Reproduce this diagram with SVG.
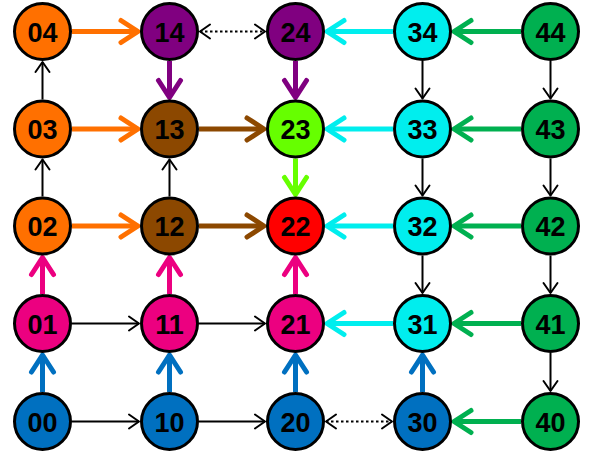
<svg xmlns="http://www.w3.org/2000/svg" width="595" height="455" viewBox="0 0 595 455">
<style>
.n circle{stroke:#000;stroke-width:3}
.n text{font-family:"Liberation Sans",Arial,sans-serif;font-weight:bold;font-size:27px;text-anchor:middle;fill:#000}
.c line{fill:none}
.k{stroke:#000;stroke-width:2}
.t{stroke-width:5}
.d{stroke:#000;stroke-width:2;stroke-dasharray:2.5,2.5}
</style>
<defs>
<marker id="mk" markerUnits="userSpaceOnUse" orient="auto-start-reverse" overflow="visible" markerWidth="1" markerHeight="1" refX="0" refY="0"><path d="M-10,-7 L0,0 L-10,7" fill="none" stroke="#000" stroke-width="2" stroke-linecap="round" stroke-linejoin="round"/></marker>
<marker id="mo" markerUnits="userSpaceOnUse" orient="auto" overflow="visible" markerWidth="1" markerHeight="1"><path d="M-17,-11 L0,0 L-17,11" fill="none" stroke="#FF7000" stroke-width="5" stroke-linecap="round" stroke-linejoin="round"/></marker>
<marker id="mp" markerUnits="userSpaceOnUse" orient="auto" overflow="visible" markerWidth="1" markerHeight="1"><path d="M-17,-11 L0,0 L-17,11" fill="none" stroke="#800080" stroke-width="5" stroke-linecap="round" stroke-linejoin="round"/></marker>
<marker id="mb" markerUnits="userSpaceOnUse" orient="auto" overflow="visible" markerWidth="1" markerHeight="1"><path d="M-17,-11 L0,0 L-17,11" fill="none" stroke="#8C4800" stroke-width="5" stroke-linecap="round" stroke-linejoin="round"/></marker>
<marker id="ml" markerUnits="userSpaceOnUse" orient="auto" overflow="visible" markerWidth="1" markerHeight="1"><path d="M-17,-11 L0,0 L-17,11" fill="none" stroke="#66FF00" stroke-width="5" stroke-linecap="round" stroke-linejoin="round"/></marker>
<marker id="mc" markerUnits="userSpaceOnUse" orient="auto" overflow="visible" markerWidth="1" markerHeight="1"><path d="M-17,-11 L0,0 L-17,11" fill="none" stroke="#00EEEE" stroke-width="5" stroke-linecap="round" stroke-linejoin="round"/></marker>
<marker id="mg" markerUnits="userSpaceOnUse" orient="auto" overflow="visible" markerWidth="1" markerHeight="1"><path d="M-17,-11 L0,0 L-17,11" fill="none" stroke="#00B050" stroke-width="5" stroke-linecap="round" stroke-linejoin="round"/></marker>
<marker id="mu" markerUnits="userSpaceOnUse" orient="auto" overflow="visible" markerWidth="1" markerHeight="1"><path d="M-17,-11 L0,0 L-17,11" fill="none" stroke="#0070C0" stroke-width="5" stroke-linecap="round" stroke-linejoin="round"/></marker>
<marker id="mi" markerUnits="userSpaceOnUse" orient="auto" overflow="visible" markerWidth="1" markerHeight="1"><path d="M-17,-11 L0,0 L-17,11" fill="none" stroke="#EC0080" stroke-width="5" stroke-linecap="round" stroke-linejoin="round"/></marker>
</defs>
<rect width="595" height="455" fill="#fff"/>
<g id="connectors" class="c">
<line class="t" x1="72" y1="31.5" x2="138" y2="31.5" stroke="#FF7000" marker-end="url(#mo)"/>
<line class="t" x1="72" y1="129" x2="138" y2="129" stroke="#FF7000" marker-end="url(#mo)"/>
<line class="t" x1="72" y1="226" x2="138" y2="226" stroke="#FF7000" marker-end="url(#mo)"/>
<line class="t" x1="199" y1="129" x2="264" y2="129" stroke="#8C4800" marker-end="url(#mb)"/>
<line class="t" x1="199" y1="226" x2="264" y2="226" stroke="#8C4800" marker-end="url(#mb)"/>
<line class="t" x1="169.5" y1="61" x2="169.5" y2="97.5" stroke="#800080" marker-end="url(#mp)"/>
<line class="t" x1="295.5" y1="61" x2="295.5" y2="97.5" stroke="#800080" marker-end="url(#mp)"/>
<line class="t" x1="295.5" y1="158.5" x2="295.5" y2="194.5" stroke="#66FF00" marker-end="url(#ml)"/>
<line class="t" x1="393" y1="31.5" x2="327" y2="31.5" stroke="#00EEEE" marker-end="url(#mc)"/>
<line class="t" x1="393" y1="129" x2="327" y2="129" stroke="#00EEEE" marker-end="url(#mc)"/>
<line class="t" x1="393" y1="226" x2="327" y2="226" stroke="#00EEEE" marker-end="url(#mc)"/>
<line class="t" x1="393" y1="323.5" x2="327" y2="323.5" stroke="#00EEEE" marker-end="url(#mc)"/>
<line class="t" x1="521" y1="31.5" x2="454" y2="31.5" stroke="#00B050" marker-end="url(#mg)"/>
<line class="t" x1="521" y1="129" x2="454" y2="129" stroke="#00B050" marker-end="url(#mg)"/>
<line class="t" x1="521" y1="226" x2="454" y2="226" stroke="#00B050" marker-end="url(#mg)"/>
<line class="t" x1="521" y1="323.5" x2="454" y2="323.5" stroke="#00B050" marker-end="url(#mg)"/>
<line class="t" x1="521" y1="421.5" x2="454" y2="421.5" stroke="#00B050" marker-end="url(#mg)"/>
<line class="t" x1="42.5" y1="392" x2="42.5" y2="355" stroke="#0070C0" marker-end="url(#mu)"/>
<line class="t" x1="169.5" y1="392" x2="169.5" y2="355" stroke="#0070C0" marker-end="url(#mu)"/>
<line class="t" x1="295.5" y1="392" x2="295.5" y2="355" stroke="#0070C0" marker-end="url(#mu)"/>
<line class="t" x1="422.5" y1="392" x2="422.5" y2="355" stroke="#0070C0" marker-end="url(#mu)"/>
<line class="t" x1="42.5" y1="294" x2="42.5" y2="257.5" stroke="#EC0080" marker-end="url(#mi)"/>
<line class="t" x1="169.5" y1="294" x2="169.5" y2="257.5" stroke="#EC0080" marker-end="url(#mi)"/>
<line class="t" x1="295.5" y1="294" x2="295.5" y2="257.5" stroke="#EC0080" marker-end="url(#mi)"/>
<line class="k" x1="42.5" y1="99.5" x2="42.5" y2="62" marker-end="url(#mk)"/>
<line class="k" x1="42.5" y1="196.5" x2="42.5" y2="159.5" marker-end="url(#mk)"/>
<line class="k" x1="169.5" y1="196.5" x2="169.5" y2="159.5" marker-end="url(#mk)"/>
<line class="k" x1="72" y1="323.5" x2="139" y2="323.5" marker-end="url(#mk)"/>
<line class="k" x1="199" y1="323.5" x2="265" y2="323.5" marker-end="url(#mk)"/>
<line class="k" x1="72" y1="421.5" x2="139" y2="421.5" marker-end="url(#mk)"/>
<line class="k" x1="199" y1="421.5" x2="265" y2="421.5" marker-end="url(#mk)"/>
<line class="k" x1="422.5" y1="61" x2="422.5" y2="98.5" marker-end="url(#mk)"/>
<line class="k" x1="422.5" y1="158.5" x2="422.5" y2="195.5" marker-end="url(#mk)"/>
<line class="k" x1="422.5" y1="255.5" x2="422.5" y2="293" marker-end="url(#mk)"/>
<line class="k" x1="550.5" y1="61" x2="550.5" y2="98.5" marker-end="url(#mk)"/>
<line class="k" x1="550.5" y1="158.5" x2="550.5" y2="195.5" marker-end="url(#mk)"/>
<line class="k" x1="550.5" y1="255.5" x2="550.5" y2="293" marker-end="url(#mk)"/>
<line class="k" x1="550.5" y1="353" x2="550.5" y2="391" marker-end="url(#mk)"/>
<line class="d" x1="200" y1="31.5" x2="265" y2="31.5" marker-start="url(#mk)" marker-end="url(#mk)"/>
<line class="d" x1="326" y1="421.5" x2="392" y2="421.5" marker-start="url(#mk)" marker-end="url(#mk)"/>
</g>
<g id="n00" class="n"><circle cx="42.5" cy="421.5" r="28" fill="#0070C0"/><text x="42.5" y="431.5">00</text></g>
<g id="n10" class="n"><circle cx="169.5" cy="421.5" r="28" fill="#0070C0"/><text x="169.5" y="431.5">10</text></g>
<g id="n20" class="n"><circle cx="295.5" cy="421.5" r="28" fill="#0070C0"/><text x="295.5" y="431.5">20</text></g>
<g id="n30" class="n"><circle cx="422.5" cy="421.5" r="28" fill="#0070C0"/><text x="422.5" y="431.5">30</text></g>
<g id="n40" class="n"><circle cx="550.5" cy="421.5" r="28" fill="#00B050"/><text x="550.5" y="431.5">40</text></g>
<g id="n01" class="n"><circle cx="42.5" cy="323.5" r="28" fill="#EC0080"/><text x="42.5" y="333.5">01</text></g>
<g id="n11" class="n"><circle cx="169.5" cy="323.5" r="28" fill="#EC0080"/><text x="169.5" y="333.5">11</text></g>
<g id="n21" class="n"><circle cx="295.5" cy="323.5" r="28" fill="#EC0080"/><text x="295.5" y="333.5">21</text></g>
<g id="n31" class="n"><circle cx="422.5" cy="323.5" r="28" fill="#00EEEE"/><text x="422.5" y="333.5">31</text></g>
<g id="n41" class="n"><circle cx="550.5" cy="323.5" r="28" fill="#00B050"/><text x="550.5" y="333.5">41</text></g>
<g id="n02" class="n"><circle cx="42.5" cy="226" r="28" fill="#FF7000"/><text x="42.5" y="236">02</text></g>
<g id="n12" class="n"><circle cx="169.5" cy="226" r="28" fill="#8C4800"/><text x="169.5" y="236">12</text></g>
<g id="n22" class="n"><circle cx="295.5" cy="226" r="28" fill="#FF0000"/><text x="295.5" y="236">22</text></g>
<g id="n32" class="n"><circle cx="422.5" cy="226" r="28" fill="#00EEEE"/><text x="422.5" y="236">32</text></g>
<g id="n42" class="n"><circle cx="550.5" cy="226" r="28" fill="#00B050"/><text x="550.5" y="236">42</text></g>
<g id="n03" class="n"><circle cx="42.5" cy="129" r="28" fill="#FF7000"/><text x="42.5" y="139">03</text></g>
<g id="n13" class="n"><circle cx="169.5" cy="129" r="28" fill="#8C4800"/><text x="169.5" y="139">13</text></g>
<g id="n23" class="n"><circle cx="295.5" cy="129" r="28" fill="#66FF00"/><text x="295.5" y="139">23</text></g>
<g id="n33" class="n"><circle cx="422.5" cy="129" r="28" fill="#00EEEE"/><text x="422.5" y="139">33</text></g>
<g id="n43" class="n"><circle cx="550.5" cy="129" r="28" fill="#00B050"/><text x="550.5" y="139">43</text></g>
<g id="n04" class="n"><circle cx="42.5" cy="31.5" r="28" fill="#FF7000"/><text x="42.5" y="41.5">04</text></g>
<g id="n14" class="n"><circle cx="169.5" cy="31.5" r="28" fill="#800080"/><text x="169.5" y="41.5">14</text></g>
<g id="n24" class="n"><circle cx="295.5" cy="31.5" r="28" fill="#800080"/><text x="295.5" y="41.5">24</text></g>
<g id="n34" class="n"><circle cx="422.5" cy="31.5" r="28" fill="#00EEEE"/><text x="422.5" y="41.5">34</text></g>
<g id="n44" class="n"><circle cx="550.5" cy="31.5" r="28" fill="#00B050"/><text x="550.5" y="41.5">44</text></g>
</svg>
